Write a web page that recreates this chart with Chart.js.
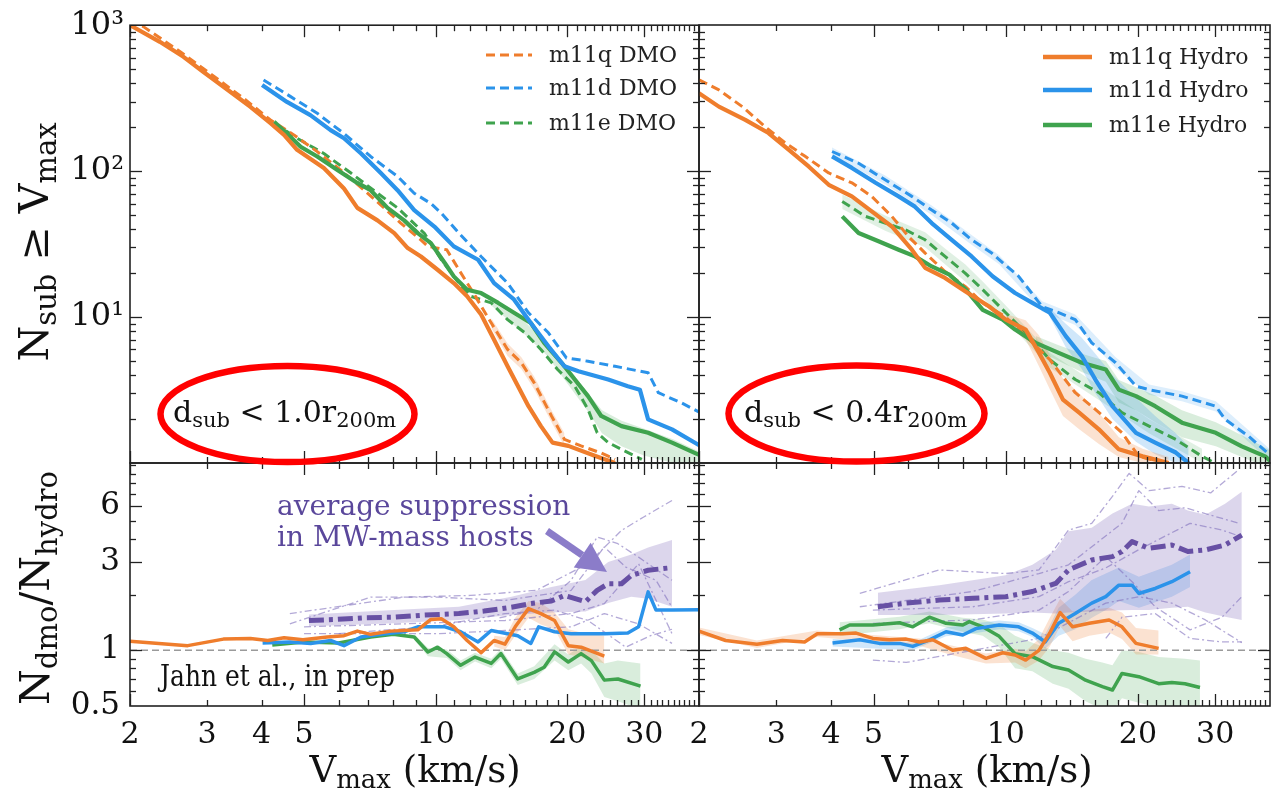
<!DOCTYPE html>
<html><head><meta charset="utf-8">
<script src="https://cdn.jsdelivr.net/npm/chart.js@4.4.1/dist/chart.umd.min.js"></script>
<style>
html,body{margin:0;padding:0;background:#fff;}
#wrap{position:relative;width:1274px;height:794px;overflow:hidden;background:#fff;}
canvas{position:absolute;left:0;top:0;}
</style></head>
<body><div id="wrap">
<canvas id="cTL" width="1274" height="794" style="width:1274px;height:794px"></canvas>
<canvas id="cTR" width="1274" height="794" style="width:1274px;height:794px"></canvas>
<canvas id="cBL" width="1274" height="794" style="width:1274px;height:794px"></canvas>
<canvas id="cBR" width="1274" height="794" style="width:1274px;height:794px"></canvas>
</div>
<script>
// ---------------- axes / ticks ----------------
const X_MIN = 2, X_MAX = 40;
const TOP_Y_MIN = 1, TOP_Y_MAX = 1000;
const BOT_Y_MIN = 0.5, BOT_Y_MAX = 10.3;
const X_TICK_LABELS = [2, 3, 4, 5, 10, 20, 30];
const X_TICKS_MAJOR = [2, 5, 10, 20, 30];
const X_TICKS_MINOR = [3,4,6,7,8,9,11,12,13,14,15,16,17,18,19,21,22,23,24,25,26,27,28,29,31,32,33,34,35,36,37,38,39];
const TOP_Y_LABELS = [10, 100, 1000];
const TOP_Y_MAJOR = [10, 100];
const TOP_Y_MINOR = [2,3,4,5,6,7,8,9,20,30,40,50,60,70,80,90,200,300,400,500,600,700,800,900];
const BOT_Y_LABELS = [0.5, 1, 3, 6];
const BOT_Y_MAJOR = [1, 3, 6];
const BOT_Y_MINOR = [0.6,0.7,0.8,0.9,2,4,5,7,8,9,10];
const DMO_LABELS = ['m11q DMO', 'm11d DMO', 'm11e DMO'];
const HYDRO_LABELS = ['m11q Hydro', 'm11d Hydro', 'm11e Hydro'];

// ---------------- top-left: d < 1.0 r200m ----------------
const tl_q_hyd_v = [2.0,2.34,2.65,2.94,3.39,3.77,4.19,4.50,4.82,5.55,6.17,6.62,7.36,8.04,8.63,9.25,10.1,11.0,11.8,12.7,13.6,14.6,16.3,17.4,18.5,20.1,23.1,25.7];
const tl_q_hyd_n = [1000,769,607,480,350,276,213,177,140,105,76,56,46,37.6,29.7,26.0,21.1,17.1,13.9,10.4,7.0,4.6,2.45,1.79,1.38,1.31,1.12,1.0];
const tl_q_dmo_v = [2.0,2.15,2.61,3.16,3.64,4.19,4.74,5.36,6.06,6.86,7.62,8.32,9.25,9.6,10.6,11.3,12.2,13.4,14.6,15.7,16.8,18.4,19.7,21.5,23.9,25.7];
const tl_q_dmo_n = [1100,974,656,431,315,224,177,136,102,74,56,44,33.8,30.5,28.9,21.1,14.6,9.1,6.0,4.86,3.54,2.1,1.45,1.31,1.17,1.06];
const tl_d_hyd_v = [4.01,4.57,5.17,5.75,6.17,6.75,7.49,8.18,8.93,9.93,11.0,12.5,13.6,15.1,16.5,18.1,19.7,21.2,24.8,27.5,29.3,30.6,34.7,40.3];
const tl_d_hyd_n = [389,298,242,191,168,132,97,74,54,41.7,30.5,24.7,17.1,13.2,9.1,6.3,4.6,4.26,3.73,3.36,3.18,1.99,1.70,1.31];
const tl_d_dmo_v = [4.04,4.66,5.36,6.17,7.10,8.18,8.93,9.75,10.3,11.3,12.7,14.6,16.3,18.1,19.9,22.3,25.7,30.6,32.3,36.5,40.3];
const tl_d_dmo_n = [421,324,249,181,126,92,70.6,60,51.5,37.6,26,17.1,10.7,7.8,5.25,4.98,4.6,4.15,3.03,2.58,2.21];
const tl_e_hyd_v = [4.27,4.57,4.91,5.36,5.96,6.62,7.10,7.76,8.47,9.10,9.75,10.5,11.0,11.8,12.7,13.9,15.1,16.5,17.7,19.4,20.8,22.3,23.9,26.6,30.6,34.7,39.2,40.5];
const tl_e_hyd_n = [218,181,147,126,102,83,74,56,46,37.6,32.1,23.4,19.0,15.4,14.6,12.5,10.7,9.1,6.65,4.86,3.73,2.87,2.10,1.79,1.61,1.38,1.17,1.12];
const tl_e_dmo_v = [4.27,4.82,5.55,6.40,7.36,8.18,8.77,9.42,10.3,11.3,12.0,13.4,14.6,16.0,17.4,19.0,20.8,22.3,23.4,24.8,26.6,29.6];
const tl_e_dmo_n = [213,168,132,97,70.6,56,46,37.5,24.7,17.1,13.9,12.5,9.6,7.8,6.0,4.37,3.36,2.33,1.61,1.38,1.24,1.06];
const tl_e_band_v  = [13.4,16.0,18.0,20.0,22.3,24.0,26.6,30.0,35.0,40.0];
const tl_e_band_hi = [12.8,9.3,6.5,4.6,3.0,2.3,1.95,1.72,1.45,1.2];
const tl_e_band_lo = [12.0,7.6,5.4,3.5,2.25,1.6,1.3,1.12,1.0,0.95];
const tl_q_band_v  = [13.4,14.6,15.7,16.8,18.4,19.7];
const tl_q_band_hi = [9.8,6.6,5.3,3.9,2.3,1.6];
const tl_q_band_lo = [8.4,5.4,4.4,3.2,1.9,1.3];

// ---------------- top-right: d < 0.4 r200m ----------------
const tr_q_hyd_v = [2.0,2.22,2.55,2.88,3.20,3.56,3.95,4.46,4.95,5.50,6.11,6.55,7.27,8.08,9.17,10.0,11.1,11.9,12.6,13.5,14.7,16.3,18.1,20.5,23.5];
const tr_q_hyd_n = [341,276,224,182,140,107,80.5,67,52.9,41.7,28.9,21.7,18.5,15.0,11.8,9.6,8.2,5.7,4.15,2.72,2.21,1.70,1.24,1.11,1.0];
const tr_q_dmo_v = [2.0,2.22,2.51,2.83,3.15,3.49,3.95,4.46,4.95,5.5,6.0,6.55,7.27,8.08,8.86,10.0,11.1,12.6,14.4,16.0,18.4,20.1,23.0];
const tr_q_dmo_n = [421,359,276,201,155,126,97,83,67,48.9,35.6,27.4,20.5,16.2,12.5,10.0,7.4,5.1,3.03,2.33,1.61,1.11,1.0];
const tr_d_hyd_v = [4.02,4.46,5.05,5.70,6.21,6.78,7.53,8.36,9.33,10.5,11.5,12.6,13.7,14.9,16.0,17.5,19.8,21.9,24.4,26.1];
const tr_d_hyd_n = [126,105,83,67,57,44,33.8,26,19,14.6,12.5,10.7,7.4,5.4,3.73,2.45,1.61,1.38,1.18,1.0];
const tr_d_dmo_v = [4.02,4.62,5.31,6.11,6.78,7.53,8.36,9.29,9.66,10.7,12.1,13.2,14.4,15.7,17.8,19.8,21.2,25.2,30.1,31.6,35.7,39.4,40.5];
const tr_d_dmo_n = [136,113,87,67,54,44,33.8,27.4,24.7,19,11.8,10.7,9.6,6.65,4.86,3.36,3.18,2.87,2.45,1.99,1.53,1.18,1.1];
const tr_e_hyd_v = [4.24,4.62,5.13,5.70,6.21,6.78,7.44,8.11,8.86,9.84,10.5,11.7,13.2,14.9,16.9,18.1,19.8,21.9,25.2,30.1,34.5,39.0,40.5];
const tr_e_hyd_n = [48.9,37.6,33,28.9,26,22.2,19.5,15.4,11.2,9.6,8.2,6.65,5.68,4.86,4.37,3.18,2.87,2.45,1.89,1.61,1.30,1.11,1.0];
const tr_e_dmo_v = [4.24,4.79,5.31,5.90,6.55,7.27,8.08,8.86,10.0,11.3,12.6,14.4,16.3,18.4,21.2,24.4,28.0,30.0];
const tr_e_dmo_n = [61.8,48.9,44,39.6,33.8,26,20,15.4,10.7,7.4,5.1,3.73,3.03,2.21,1.79,1.45,1.11,1.0];
const tr_q_band_v  = [10.0,11.1,11.9,12.6,13.5,14.7,16.3,18.1,20.5,23.5];
const tr_q_band_hi = [10.5,9.5,7.5,5.5,3.8,3.0,2.2,1.5,1.25,1.1];
const tr_q_band_lo = [8.8,7.0,4.6,3.2,2.1,1.7,1.35,1.1,1.0,0.95];
const tr_d_band_v  = [12.6,13.7,14.9,16.0,17.5,19.8,21.9,24.4,26.1];
const tr_d_band_hi = [11.5,9.0,7.2,5.6,4.0,2.8,2.1,1.6,1.3];
const tr_d_band_lo = [10.0,6.2,4.4,3.0,2.0,1.4,1.15,1.0,0.95];
const tr_e_band_v  = [11.7,13.2,14.9,16.9,18.1,19.8,21.9,25.2,30.1,34.5,40.5];
const tr_e_band_hi = [7.4,6.4,5.6,5.0,3.7,3.3,2.9,2.3,1.9,1.55,1.2];
const tr_e_band_lo = [6.0,5.0,4.2,3.6,2.6,2.3,1.9,1.5,1.3,1.1,0.9];
const tr_dd_band_v  = [4.02,5.31,6.78,8.36,9.66,12.1,14.4,17.8,21.2,25.2,30.1,35.7,40.5];
const tr_dd_band_hi = [145,93,58,36.5,26.5,12.8,10.4,5.3,3.45,3.1,2.65,1.68,1.2];
const tr_dd_band_lo = [128,81,50,31.3,23,10.9,8.8,4.45,2.93,2.65,2.25,1.4,1.0];
const tr_ed_band_v  = [4.24,5.31,6.55,7.27,8.08,8.86,10.0,12.6,16.3,21.2,28.0];
const tr_ed_band_hi = [69,49.5,38,29.5,23,17.5,12,5.7,3.4,2.0,1.25];
const tr_ed_band_lo = [55,39,30,23,17.5,13.5,9.5,4.5,2.7,1.6,1.0];

// ---------------- bottom-left: ratio, d < 1.0 r200m ----------------
const bl_q_v = [2.0,2.71,3.27,3.77,4.13,4.5,4.97,5.65,6.17,6.62,7.1,7.9,9.1,9.75,10.3,11.0,11.8,12.7,13.6,14.4,15.2,16.3,17.4,18.7,20.1,21.5,24.3];
const bl_q_r = [1.12,1.06,1.15,1.16,1.13,1.17,1.14,1.18,1.2,1.27,1.22,1.27,1.29,1.47,1.48,1.34,1.13,0.97,1.13,1.08,1.34,1.68,1.58,1.45,1.06,1.04,0.93];
const bl_d_v = [4.02,4.64,5.18,5.75,6.17,6.75,7.49,8.47,9.1,10.5,11.4,12.5,13.4,14.6,15.4,16.5,17.2,18.7,20.4,24.3,27.5,29.1,30.6,31.9,34.7,40.6];
const bl_d_r = [1.095,1.11,1.09,1.13,1.06,1.18,1.22,1.26,1.34,1.34,1.26,1.11,1.28,1.23,1.2,1.09,1.34,1.26,1.23,1.23,1.24,1.34,2.07,1.65,1.65,1.66];
const bl_e_v = [4.23,5.0,6.0,7.1,8.0,8.93,9.6,10.1,10.6,11.4,12.3,13.4,14.1,15.4,16.8,17.7,18.7,20.1,21.5,22.7,24.3,26.1,29.4];
const bl_e_r = [1.07,1.11,1.095,1.18,1.22,1.18,0.98,1.04,0.96,0.83,0.92,0.85,0.96,0.70,0.76,0.81,0.98,0.865,0.96,0.88,0.69,0.70,0.64];
const bl_mean_v = [5.13,5.97,6.86,8.04,9.42,11.3,12.9,14.9,16.5,18.4,19.7,22.0,23.4,24.8,26.6,28.0,30.6,34.7];
const bl_mean_r = [1.45,1.47,1.50,1.51,1.55,1.58,1.63,1.71,1.79,1.85,1.98,1.83,2.11,2.29,2.29,2.54,2.71,2.80];
const bl_mean_band_v  = [5.13,8.04,11.3,14.9,18.4,22.0,24.8,28.0,30.6,34.7];
const bl_mean_band_hi = [1.56,1.65,1.72,1.95,2.2,2.4,3.0,3.3,3.6,3.95];
const bl_mean_band_lo = [1.35,1.40,1.46,1.55,1.6,1.62,1.8,1.95,1.9,1.72];
const bl_q_band_v  = [13.6,14.4,15.2,16.3,17.4,18.7,20.1,21.5,24.3];
const bl_q_band_hi = [1.2,1.18,1.5,1.85,1.8,1.6,1.3,1.25,1.2];
const bl_q_band_lo = [1.05,1.0,1.2,1.5,1.38,1.3,0.95,0.92,0.85];
const bl_e_band_v  = [8.93,9.6,10.6,11.4,12.3,13.4,14.1,15.4,16.8,18.7,20.1,21.5,22.7,24.3,26.1,29.4];
const bl_e_band_hi = [1.22,1.03,1.01,0.88,0.97,0.9,1.02,0.75,0.82,1.08,0.95,1.05,1.0,0.85,0.88,0.85];
const bl_e_band_lo = [1.14,0.93,0.91,0.78,0.87,0.8,0.9,0.65,0.7,0.88,0.78,0.85,0.75,0.56,0.53,0.48];
const bl_h1_v = [4.64,8.47,12.0,17.0,22.3,26.6,29.9,34.7];
const bl_h1_r = [1.58,1.94,1.98,2.11,2.94,4.45,5.26,6.46];
const bl_h2_v = [4.64,7.1,10.1,14.4,20.4,24.3,27.2,31.9,34.7];
const bl_h2_r = [1.39,1.94,1.94,1.86,2.11,3.62,2.82,2.39,1.71];
const bl_h3_v = [5.0,8.47,14.4,20.4,24.3,29.1,34.7];
const bl_h3_r = [1.34,1.39,1.45,1.58,1.79,2.94,1.23];
const bl_h4_v = [5.0,10.1,14.4,20.4,24.3,29.1,34.7];
const bl_h4_r = [1.23,1.23,1.28,1.34,1.58,1.39,1.09];
const bl_h5_v = [6.0,10.0,14.4,18.7,22.3,27.2,31.0,34.7];
const bl_h5_r = [1.23,1.35,1.58,1.65,1.45,1.04,1.2,1.3];
const bl_h6_v = [14.0,17.0,20.4,23.4,26.1,29.1,34.7];
const bl_h6_r = [1.5,1.65,2.39,4.1,3.77,3.19,2.39];

// ---------------- bottom-right: ratio, d < 0.4 r200m ----------------
const br_q_v = [2.0,2.3,2.71,3.10,3.48,3.72,4.24,4.56,4.98,5.43,5.93,6.36,6.82,7.57,8.11,9.01,9.84,10.5,11.1,11.9,12.6,13.3,14.2,15.5,17.2,18.4,19.8,22.3];
const br_q_r = [1.27,1.13,1.08,1.13,1.11,1.23,1.23,1.24,1.16,1.14,1.15,1.11,1.14,1.0,1.025,0.905,0.97,0.943,0.886,1.0,1.24,1.60,1.34,1.40,1.46,1.34,1.09,1.025];
const br_d_v = [4.03,4.65,5.15,5.73,6.14,6.70,7.31,7.98,8.55,9.66,10.7,11.5,12.3,13.2,14.4,15.7,16.9,18.1,19.4,20.1,21.9,23.9,26.3];
const br_d_r = [1.095,1.14,1.09,1.09,1.05,1.14,1.26,1.21,1.31,1.37,1.34,1.24,1.11,1.40,1.58,1.80,1.95,2.25,2.25,2.03,2.16,2.35,2.66];
const br_e_v = [4.18,4.41,4.98,5.73,6.14,6.70,7.31,7.98,8.26,8.86,9.66,10.5,11.5,12.8,13.9,15.2,16.6,17.5,18.4,20.1,22.3,23.9,25.6,27.7];
const br_e_r = [1.29,1.37,1.37,1.41,1.34,1.51,1.40,1.37,1.43,1.34,1.19,0.96,0.924,0.817,0.783,0.69,0.637,0.61,0.75,0.72,0.66,0.67,0.66,0.63];
const br_mean_v = [5.11,5.93,7.06,8.41,10.0,11.5,13.0,13.9,15.7,17.5,18.4,19.4,21.2,23.9,26.0,28.5,31.6,34.5];
const br_mean_r = [1.72,1.80,1.87,1.91,1.95,2.08,2.30,2.72,3.08,3.21,3.42,3.87,3.56,3.71,3.42,3.49,3.71,4.20];
const br_mean_band_v  = [5.11,7.06,10.0,11.5,13.0,13.9,15.7,17.5,19.4,21.2,23.9,26.0,28.5,31.6,34.5];
const br_mean_band_hi = [2.05,2.25,2.55,2.9,3.5,4.4,4.6,5.5,6.2,6.0,6.2,5.7,5.4,6.2,7.2];
const br_mean_band_lo = [1.55,1.55,1.58,1.6,1.58,1.6,1.62,1.64,1.65,1.65,1.7,1.72,1.6,1.52,1.46];
const br_q_band_v  = [2.0,2.71,3.72,4.98,6.36,7.57,9.01,10.5,11.1,11.9,12.6,13.3,14.2,15.5,17.2,18.4,19.8,22.3];
const br_q_band_hi = [1.33,1.13,1.28,1.21,1.16,1.06,0.96,1.02,0.99,1.15,1.5,1.9,1.62,1.65,1.7,1.6,1.32,1.28];
const br_q_band_lo = [1.21,1.03,1.18,1.11,1.06,0.94,0.85,0.86,0.8,0.88,1.05,1.35,1.12,1.2,1.25,1.15,0.95,0.95];
const br_d_band_v  = [4.03,6.14,7.31,8.55,9.66,10.7,11.5,12.3,13.2,14.4,15.7,16.9,18.1,20.1,23.9,26.3];
const br_d_band_hi = [1.15,1.1,1.33,1.4,1.45,1.42,1.32,1.22,1.7,2.0,2.4,2.6,2.8,2.5,2.9,3.3];
const br_d_band_lo = [1.05,1.0,1.19,1.24,1.3,1.27,1.18,1.02,1.2,1.3,1.5,1.65,1.85,1.7,1.95,2.2];
const br_e_band_v  = [4.18,5.73,6.70,7.98,8.86,9.66,10.5,11.5,12.8,13.9,15.2,16.6,17.5,18.4,20.1,22.3,25.6,27.7];
const br_e_band_hi = [1.42,1.52,1.62,1.5,1.47,1.38,1.2,1.1,1.0,0.97,0.9,0.86,0.83,1.0,0.98,0.92,0.9,0.88];
const br_e_band_lo = [1.2,1.3,1.4,1.26,1.2,1.04,0.8,0.77,0.66,0.62,0.53,0.48,0.47,0.55,0.52,0.49,0.48,0.47];
const br_h1_v = [4.65,7.06,10.0,11.9,13.9,15.7,17.5,19.1,21.2,25.2,29.3,34.0];
const br_h1_r = [2.03,2.72,2.6,2.72,4.47,4.86,6.8,9.05,7.3,7.7,7.1,9.5];
const br_h2_v = [4.65,8.41,11.9,13.9,18.4,20.1,22.3,25.6,34.0];
const br_h2_r = [1.72,2.08,2.6,2.9,4.86,7.3,5.7,5.9,4.86];
const br_h3_v = [4.98,8.41,11.9,13.9,16.9,20.1,26.3,31.1,34.5];
const br_h3_r = [1.65,1.72,1.95,2.35,2.79,3.5,4.86,4.47,4.1];
const br_h4_v = [4.98,8.41,11.9,13.9,16.9,19.4,21.9,26.3,31.1,34.5];
const br_h4_r = [1.40,1.46,1.65,2.08,3.21,2.35,1.72,1.29,1.51,1.95];
const br_h5_v = [4.98,5.93,8.41,11.9,16.9,20.1,23.9,28.5,34.5];
const br_h5_r = [0.886,0.86,1.0,1.16,1.8,1.95,1.8,1.46,1.1];
const br_h6_v = [16.9,18.4,21.9,26.3,31.1,34.5];
const br_h6_r = [1.16,1.51,1.58,1.16,1.11,1.11];
const unity_v = [2, 40];
const unity_r = [1, 1];

// ---------------- styles ----------------
const C_Q = '#ef7d2c', C_D = '#2b93ea', C_E = '#3fa34e', C_MEAN = '#6750a4';
const C_THIN = 'rgba(128,112,188,0.6)';
const B_Q = 'rgba(239,125,44,0.22)', B_D = 'rgba(43,147,234,0.22)', B_E = 'rgba(63,163,78,0.2)', B_P = 'rgba(125,105,185,0.27)';
const SERIF = '"DejaVu Serif", serif';

function pts(xs, ys) { return xs.map((v, i) => ({x: v, y: ys[i]})); }
function ln(xs, ys, color, width, dash, order) {
  return {data: pts(xs, ys), borderColor: color, borderWidth: width, borderDash: dash || [],
    pointRadius: 0, fill: false, tension: 0, clip: 0, order: order || 0,
    borderJoinStyle: 'round', borderCapStyle: 'butt'};
}
function band(xs, lo, hi, color) {
  return [
    {data: pts(xs, hi), borderWidth: 0, borderColor: 'rgba(0,0,0,0)', pointRadius: 0, fill: '+1', backgroundColor: color, order: 30, clip: 0, tension: 0},
    {data: pts(xs, lo), borderWidth: 0, borderColor: 'rgba(0,0,0,0)', pointRadius: 0, fill: false, order: 30, clip: 0, tension: 0}
  ];
}
const DASH = [9, 5];
const DASHDOT_THICK = [15, 5, 4, 5];
const DASHDOT_THIN = [7, 3, 2, 3];

// ---------------- frame + inward ticks ----------------
const framePlugin = {
  id: 'frame',
  afterDatasetsDraw(chart, args, o) {
    const {ctx, chartArea: a, scales: {x, y}} = chart;
    ctx.save();
    ctx.strokeStyle = '#222'; ctx.lineWidth = 1.3; ctx.setLineDash([]);
    const seg = (x1, y1, x2, y2) => { ctx.beginPath(); ctx.moveTo(x1, y1); ctx.lineTo(x2, y2); ctx.stroke(); };
    const xt = X_TICKS_MAJOR.map(v => [v, 12]).concat(X_TICKS_MINOR.map(v => [v, 6]));
    xt.forEach(([v, L]) => { const p = Math.round(x.getPixelForValue(v)) + 0.5; seg(p, a.top, p, a.top + L); seg(p, a.bottom, p, a.bottom - L); });
    const yt = o.yMajor.map(v => [v, 12]).concat(o.yMinor.map(v => [v, 6]));
    yt.forEach(([v, L]) => { const p = Math.round(y.getPixelForValue(v)) + 0.5; seg(a.left, p, a.left + L, p); seg(a.right, p, a.right - L, p); });
    ctx.lineWidth = 1.6;
    ctx.strokeRect(a.left, a.top, a.right - a.left, a.bottom - a.top);
    ctx.restore();
  }
};

function rich(ctx, x, y, parts, align) {
  let w = 0;
  parts.forEach(p => { ctx.font = p.s + 'px ' + SERIF; p.w = ctx.measureText(p.t).width; w += p.w; });
  let cx = align === 'center' ? x - w / 2 : x;
  ctx.textAlign = 'left'; ctx.textBaseline = 'alphabetic';
  parts.forEach(p => { ctx.font = p.s + 'px ' + SERIF; ctx.fillText(p.t, cx, y + (p.dy || 0)); cx += p.w; });
}

const annotPlugin = {
  id: 'annot',
  afterDraw(chart) {
    const ctx = chart.ctx;
    ctx.save();
    // legends
    const cols = [C_Q, C_D, C_E];
    [55, 88, 123].forEach((yy, i) => {
      ctx.strokeStyle = cols[i]; ctx.lineWidth = 3; ctx.setLineDash(DASH);
      ctx.beginPath(); ctx.moveTo(486, yy); ctx.lineTo(532, yy); ctx.stroke();
      ctx.setLineDash([]);
      ctx.fillStyle = '#222'; ctx.font = '22px ' + SERIF; ctx.textBaseline = 'middle'; ctx.textAlign = 'left';
      ctx.fillText(DMO_LABELS[i], 549, yy + 1);
    });
    [57, 90, 125].forEach((yy, i) => {
      ctx.strokeStyle = cols[i]; ctx.lineWidth = 4.5; ctx.setLineDash([]);
      ctx.beginPath(); ctx.moveTo(1043, yy); ctx.lineTo(1092, yy); ctx.stroke();
      ctx.fillStyle = '#222'; ctx.font = '22px ' + SERIF; ctx.textBaseline = 'middle'; ctx.textAlign = 'left';
      ctx.fillText(HYDRO_LABELS[i], 1109, yy + 1);
    });
    // ellipses
    ctx.strokeStyle = '#ff0000'; ctx.lineWidth = 6.5;
    ctx.beginPath(); ctx.ellipse(287.5, 414, 127, 48, 0, 0, Math.PI * 2); ctx.stroke();
    ctx.beginPath(); ctx.ellipse(856.5, 413.5, 128, 48, 0, 0, Math.PI * 2); ctx.stroke();
    ctx.fillStyle = '#111';
    rich(ctx, 173, 422, [{t: 'd', s: 30}, {t: 'sub', s: 21, dy: 5}, {t: ' < 1.0r', s: 30}, {t: '200m', s: 21, dy: 5}], 'left');
    rich(ctx, 744, 422, [{t: 'd', s: 30}, {t: 'sub', s: 21, dy: 5}, {t: ' < 0.4r', s: 30}, {t: '200m', s: 21, dy: 5}], 'left');
    // axis titles
    ctx.fillStyle = '#111';
    ctx.save(); ctx.translate(48, 242); ctx.rotate(-Math.PI / 2);
    rich(ctx, 0, 0, [{t: 'N', s: 41}, {t: 'sub', s: 29, dy: 8}, {t: ' \u2265 V', s: 41}, {t: 'max', s: 29, dy: 8}], 'center');
    ctx.restore();
    ctx.save(); ctx.translate(49, 588); ctx.rotate(-Math.PI / 2);
    rich(ctx, 0, 0, [{t: 'N', s: 41}, {t: 'dmo', s: 29, dy: 8}, {t: '/N', s: 41}, {t: 'hydro', s: 29, dy: 8}], 'center');
    ctx.restore();
    rich(ctx, 415, 782, [{t: 'V', s: 37}, {t: 'max', s: 26, dy: 6}, {t: ' (km/s)', s: 37}], 'center');
    rich(ctx, 987, 782, [{t: 'V', s: 37}, {t: 'max', s: 26, dy: 6}, {t: ' (km/s)', s: 37}], 'center');
    // Jahn et al.
    ctx.save();
    ctx.font = '30px ' + SERIF; ctx.textBaseline = 'alphabetic'; ctx.textAlign = 'left';
    const jt = 'Jahn et al., in prep';
    const jw = ctx.measureText(jt).width;
    ctx.translate(160, 686); ctx.scale(235 / jw, 1);
    ctx.fillStyle = '#111'; ctx.fillText(jt, 0, 0);
    ctx.restore();
    // purple annotation
    ctx.fillStyle = '#5a479b'; ctx.font = '28px ' + SERIF; ctx.textAlign = 'left'; ctx.textBaseline = 'alphabetic';
    ctx.fillText('average suppression', 277, 515);
    ctx.fillText('in MW-mass hosts', 277, 546);
    // arrow
    const ax0 = 547, ay0 = 531, ax1 = 607, ay1 = 572;
    const ang = Math.atan2(ay1 - ay0, ax1 - ax0);
    const hl = 30, hw = 15;
    const bx = ax1 - hl * Math.cos(ang), by = ay1 - hl * Math.sin(ang);
    ctx.strokeStyle = '#8b7cc9'; ctx.fillStyle = '#8b7cc9'; ctx.lineWidth = 7;
    ctx.beginPath(); ctx.moveTo(ax0, ay0); ctx.lineTo(bx, by); ctx.stroke();
    ctx.beginPath(); ctx.moveTo(ax1, ay1);
    ctx.lineTo(bx + hw * Math.sin(ang), by - hw * Math.cos(ang));
    ctx.lineTo(bx - hw * Math.sin(ang), by + hw * Math.cos(ang));
    ctx.closePath(); ctx.fill();
    ctx.restore();
  }
};

function makeChart(id, datasets, c) {
  const xScale = {
    type: 'logarithmic', min: X_MIN, max: X_MAX, display: c.showX,
    grid: {display: false, drawTicks: false}, border: {display: false},
    ticks: {autoSkip: false, maxRotation: 0, minRotation: 0, padding: 11, color: '#111',
      font: {family: SERIF, size: 30}, callback: v => String(v)},
    afterBuildTicks: s => { s.ticks = X_TICK_LABELS.map(v => ({value: v})); },
    afterFit: s => { s.height = c.showX ? 60 : 0; }
  };
  const yScale = {
    type: 'logarithmic', min: c.yMin, max: c.yMax, display: c.showY,
    grid: {display: false, drawTicks: false}, border: {display: false},
    ticks: {autoSkip: false, padding: c.yPad, color: '#111', font: {family: SERIF, size: c.yFont},
      callback: c.yLabel},
    afterBuildTicks: s => { s.ticks = c.yTicks.map(v => ({value: v})); },
    afterFit: s => { s.width = c.showY ? 130 : 0; }
  };
  return new Chart(document.getElementById(id), {
    type: 'line',
    data: {datasets: datasets},
    options: {
      responsive: false, animation: false, devicePixelRatio: 1,
      layout: {padding: c.pad, autoPadding: false},
      plugins: {legend: {display: false}, tooltip: {enabled: false}, frame: {yMajor: c.yMajor, yMinor: c.yMinor}},
      scales: {x: xScale, y: yScale},
      events: []
    },
    plugins: [framePlugin].concat(c.extra || [])
  });
}

const supMap = {1: '\u00b9', 2: '\u00b2', 3: '\u00b3'};
const topLabel = v => '10' + supMap[Math.round(Math.log10(v))];
const botLabel = v => String(v);

// TL
makeChart('cTL', [
  ln(tl_q_hyd_v, tl_q_hyd_n, C_Q, 4.2),
  ln(tl_d_hyd_v, tl_d_hyd_n, C_D, 4.2),
  ln(tl_e_hyd_v, tl_e_hyd_n, C_E, 4.2),
  ln(tl_q_dmo_v, tl_q_dmo_n, C_Q, 3, DASH, 1),
  ln(tl_d_dmo_v, tl_d_dmo_n, C_D, 3, DASH, 1),
  ln(tl_e_dmo_v, tl_e_dmo_n, C_E, 3, DASH, 1),
  ...band(tl_e_band_v, tl_e_band_lo, tl_e_band_hi, B_E),
  ...band(tl_q_band_v, tl_q_band_lo, tl_q_band_hi, B_Q)
], {showX: false, showY: true, yMin: TOP_Y_MIN, yMax: TOP_Y_MAX, yTicks: TOP_Y_LABELS, yLabel: topLabel, yFont: 32, yPad: 6,
    yMajor: TOP_Y_MAJOR, yMinor: TOP_Y_MINOR, pad: {left: 0, top: 25, right: 575, bottom: 331}});

// TR
makeChart('cTR', [
  ln(tr_q_hyd_v, tr_q_hyd_n, C_Q, 4.2),
  ln(tr_d_hyd_v, tr_d_hyd_n, C_D, 4.2),
  ln(tr_e_hyd_v, tr_e_hyd_n, C_E, 4.2),
  ln(tr_q_dmo_v, tr_q_dmo_n, C_Q, 3, DASH, 1),
  ln(tr_d_dmo_v, tr_d_dmo_n, C_D, 3, DASH, 1),
  ln(tr_e_dmo_v, tr_e_dmo_n, C_E, 3, DASH, 1),
  ...band(tr_q_band_v, tr_q_band_lo, tr_q_band_hi, B_Q),
  ...band(tr_d_band_v, tr_d_band_lo, tr_d_band_hi, B_D),
  ...band(tr_e_band_v, tr_e_band_lo, tr_e_band_hi, B_E),
  ...band(tr_dd_band_v, tr_dd_band_lo, tr_dd_band_hi, 'rgba(43,147,234,0.16)'),
  ...band(tr_ed_band_v, tr_ed_band_lo, tr_ed_band_hi, 'rgba(63,163,78,0.16)')
], {showX: false, showY: false, yMin: TOP_Y_MIN, yMax: TOP_Y_MAX, yTicks: TOP_Y_LABELS, yLabel: topLabel, yFont: 32, yPad: 6,
    yMajor: TOP_Y_MAJOR, yMinor: TOP_Y_MINOR, pad: {left: 699, top: 25, right: 4, bottom: 331}});

// BL
makeChart('cBL', [
  ln(bl_q_v, bl_q_r, C_Q, 3.5),
  ln(bl_d_v, bl_d_r, C_D, 3.5),
  ln(bl_e_v, bl_e_r, C_E, 3.5),
  ln(bl_mean_v, bl_mean_r, C_MEAN, 5, DASHDOT_THICK, 1),
  ln(bl_h1_v, bl_h1_r, C_THIN, 1.3, DASHDOT_THIN, 5),
  ln(bl_h2_v, bl_h2_r, C_THIN, 1.3, DASHDOT_THIN, 5),
  ln(bl_h3_v, bl_h3_r, C_THIN, 1.3, DASHDOT_THIN, 5),
  ln(bl_h4_v, bl_h4_r, C_THIN, 1.3, DASHDOT_THIN, 5),
  ln(bl_h5_v, bl_h5_r, C_THIN, 1.3, DASHDOT_THIN, 5),
  ln(bl_h6_v, bl_h6_r, C_THIN, 1.3, DASHDOT_THIN, 5),
  ln(unity_v, unity_r, '#9a9a9a', 1.5, [7, 4], 6),
  ...band(bl_mean_band_v, bl_mean_band_lo, bl_mean_band_hi, B_P),
  ...band(bl_q_band_v, bl_q_band_lo, bl_q_band_hi, B_Q),
  ...band(bl_e_band_v, bl_e_band_lo, bl_e_band_hi, B_E)
], {showX: true, showY: true, yMin: BOT_Y_MIN, yMax: BOT_Y_MAX, yTicks: BOT_Y_LABELS, yLabel: botLabel, yFont: 31, yPad: 10,
    yMajor: BOT_Y_MAJOR, yMinor: BOT_Y_MINOR, pad: {left: 0, top: 463, right: 575, bottom: 28}});

// BR
makeChart('cBR', [
  ln(br_q_v, br_q_r, C_Q, 3.5),
  ln(br_d_v, br_d_r, C_D, 3.5),
  ln(br_e_v, br_e_r, C_E, 3.5),
  ln(br_mean_v, br_mean_r, C_MEAN, 5, DASHDOT_THICK, 1),
  ln(br_h1_v, br_h1_r, C_THIN, 1.3, DASHDOT_THIN, 5),
  ln(br_h2_v, br_h2_r, C_THIN, 1.3, DASHDOT_THIN, 5),
  ln(br_h3_v, br_h3_r, C_THIN, 1.3, DASHDOT_THIN, 5),
  ln(br_h4_v, br_h4_r, C_THIN, 1.3, DASHDOT_THIN, 5),
  ln(br_h5_v, br_h5_r, C_THIN, 1.3, DASHDOT_THIN, 5),
  ln(br_h6_v, br_h6_r, C_THIN, 1.3, DASHDOT_THIN, 5),
  ln(unity_v, unity_r, '#9a9a9a', 1.5, [7, 4], 6),
  ...band(br_mean_band_v, br_mean_band_lo, br_mean_band_hi, B_P),
  ...band(br_q_band_v, br_q_band_lo, br_q_band_hi, B_Q),
  ...band(br_d_band_v, br_d_band_lo, br_d_band_hi, B_D),
  ...band(br_e_band_v, br_e_band_lo, br_e_band_hi, B_E)
], {showX: true, showY: false, yMin: BOT_Y_MIN, yMax: BOT_Y_MAX, yTicks: BOT_Y_LABELS, yLabel: botLabel, yFont: 31, yPad: 10,
    yMajor: BOT_Y_MAJOR, yMinor: BOT_Y_MINOR, pad: {left: 699, top: 463, right: 4, bottom: 28}, extra: [annotPlugin]});
</script>
</body></html>
